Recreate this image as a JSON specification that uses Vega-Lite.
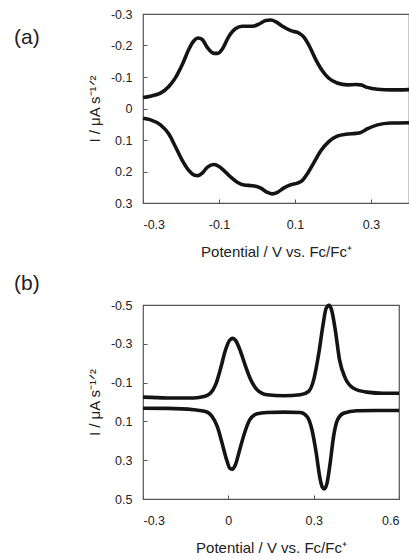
{
  "$schema": "https://vega.github.io/schema/vega-lite/v6.json",
  "background": "white",
  "padding": {"left": 13, "top": 7, "right": 0, "bottom": 0},
  "spacing": 11,
  "config": {
    "font": "Liberation Sans",
    "view": {"stroke": "#555", "strokeWidth": 1.2},
    "axis": {
      "grid": false, "domain": false, "tickColor": "#555", "tickSize": -4, "tickWidth": 1,
      "labelFontSize": 12.5, "labelColor": "#222", "labelFont": "Liberation Sans",
      "titleFontSize": 15, "titleFontWeight": "normal", "titleColor": "#222", "titleFont": "Liberation Sans"
    },
    "axisX": {"labelPadding": 19, "titlePadding": 14},
    "axisY": {"labelPadding": 15, "titlePadding": 8},
    "title": {"fontSize": 21, "fontWeight": "normal", "font": "Liberation Sans", "anchor": "start", "frame": "group", "color": "#222"}
  },
  "vconcat": [
    {
      "title": {"text": "(a)", "dx": -129, "dy": 44},
      "width": 266, "height": 189,
      "data": {"values": [
        {"sweep": "ox", "E": -0.300, "I": -0.035}, {"sweep": "ox", "E": -0.280, "I": -0.039}, {"sweep": "ox", "E": -0.254, "I": -0.049},
        {"sweep": "ox", "E": -0.232, "I": -0.070}, {"sweep": "ox", "E": -0.214, "I": -0.099}, {"sweep": "ox", "E": -0.196, "I": -0.141},
        {"sweep": "ox", "E": -0.179, "I": -0.189}, {"sweep": "ox", "E": -0.166, "I": -0.215}, {"sweep": "ox", "E": -0.155, "I": -0.224},
        {"sweep": "ox", "E": -0.144, "I": -0.219}, {"sweep": "ox", "E": -0.131, "I": -0.194}, {"sweep": "ox", "E": -0.113, "I": -0.175},
        {"sweep": "ox", "E": -0.103, "I": -0.175}, {"sweep": "ox", "E": -0.091, "I": -0.189}, {"sweep": "ox", "E": -0.074, "I": -0.229},
        {"sweep": "ox", "E": -0.056, "I": -0.254}, {"sweep": "ox", "E": -0.039, "I": -0.261}, {"sweep": "ox", "E": -0.012, "I": -0.261},
        {"sweep": "ox", "E": 0.005, "I": -0.268}, {"sweep": "ox", "E": 0.023, "I": -0.279}, {"sweep": "ox", "E": 0.036, "I": -0.281},
        {"sweep": "ox", "E": 0.049, "I": -0.276}, {"sweep": "ox", "E": 0.067, "I": -0.261}, {"sweep": "ox", "E": 0.089, "I": -0.247},
        {"sweep": "ox", "E": 0.111, "I": -0.239}, {"sweep": "ox", "E": 0.124, "I": -0.226}, {"sweep": "ox", "E": 0.137, "I": -0.200},
        {"sweep": "ox", "E": 0.154, "I": -0.157}, {"sweep": "ox", "E": 0.172, "I": -0.120}, {"sweep": "ox", "E": 0.189, "I": -0.096},
        {"sweep": "ox", "E": 0.211, "I": -0.081}, {"sweep": "ox", "E": 0.238, "I": -0.075}, {"sweep": "ox", "E": 0.260, "I": -0.076},
        {"sweep": "ox", "E": 0.273, "I": -0.075}, {"sweep": "ox", "E": 0.290, "I": -0.067}, {"sweep": "ox", "E": 0.317, "I": -0.061},
        {"sweep": "ox", "E": 0.352, "I": -0.059}, {"sweep": "ox", "E": 0.400, "I": -0.060},
        {"sweep": "red", "E": -0.300, "I": 0.031}, {"sweep": "red", "E": -0.280, "I": 0.036}, {"sweep": "red", "E": -0.254, "I": 0.052},
        {"sweep": "red", "E": -0.232, "I": 0.081}, {"sweep": "red", "E": -0.214, "I": 0.123}, {"sweep": "red", "E": -0.196, "I": 0.166},
        {"sweep": "red", "E": -0.179, "I": 0.197}, {"sweep": "red", "E": -0.166, "I": 0.211}, {"sweep": "red", "E": -0.155, "I": 0.213},
        {"sweep": "red", "E": -0.144, "I": 0.205}, {"sweep": "red", "E": -0.131, "I": 0.187}, {"sweep": "red", "E": -0.113, "I": 0.178},
        {"sweep": "red", "E": -0.100, "I": 0.184}, {"sweep": "red", "E": -0.087, "I": 0.197}, {"sweep": "red", "E": -0.069, "I": 0.218},
        {"sweep": "red", "E": -0.052, "I": 0.234}, {"sweep": "red", "E": -0.034, "I": 0.243}, {"sweep": "red", "E": -0.012, "I": 0.245},
        {"sweep": "red", "E": 0.010, "I": 0.253}, {"sweep": "red", "E": 0.027, "I": 0.266}, {"sweep": "red", "E": 0.040, "I": 0.271},
        {"sweep": "red", "E": 0.054, "I": 0.266}, {"sweep": "red", "E": 0.071, "I": 0.252}, {"sweep": "red", "E": 0.089, "I": 0.242},
        {"sweep": "red", "E": 0.106, "I": 0.237}, {"sweep": "red", "E": 0.119, "I": 0.229}, {"sweep": "red", "E": 0.132, "I": 0.208},
        {"sweep": "red", "E": 0.150, "I": 0.171}, {"sweep": "red", "E": 0.168, "I": 0.134}, {"sweep": "red", "E": 0.189, "I": 0.105},
        {"sweep": "red", "E": 0.211, "I": 0.088}, {"sweep": "red", "E": 0.238, "I": 0.081}, {"sweep": "red", "E": 0.260, "I": 0.079},
        {"sweep": "red", "E": 0.273, "I": 0.076}, {"sweep": "red", "E": 0.290, "I": 0.065}, {"sweep": "red", "E": 0.317, "I": 0.052},
        {"sweep": "red", "E": 0.352, "I": 0.046}, {"sweep": "red", "E": 0.400, "I": 0.045}
      ]},
      "mark": {"type": "line", "interpolate": "monotone", "color": "#141414", "strokeWidth": 3.6},
      "encoding": {
        "x": {"field": "E", "type": "quantitative", "scale": {"domain": [-0.3, 0.4], "nice": false, "zero": false},
          "axis": {"values": [-0.3, -0.1, 0.1, 0.3], "title": "Potential / V vs. Fc/Fc⁺",
            "labelExpr": "(datum.value < 0 ? '-' : '') + (datum.value == 0 ? '0' : format(abs(datum.value), '.1f'))"}},
        "y": {"field": "I", "type": "quantitative", "scale": {"domain": [-0.3, 0.3], "nice": false, "zero": false, "reverse": true},
          "axis": {"values": [-0.3, -0.2, -0.1, 0, 0.1, 0.2, 0.3], "title": "I / μA s⁻¹ᐟ²",
            "labelExpr": "(datum.value < 0 ? '-' : '') + (datum.value == 0 ? '0' : format(abs(datum.value), '.1f'))"}},
        "detail": {"field": "sweep", "type": "nominal"}
      }
    },
    {
      "title": {"text": "(b)", "dx": -129, "dy": 0},
      "width": 256, "height": 194,
      "data": {"values": [
        {"sweep": "ox", "E": -0.300, "I": -0.025}, {"sweep": "ox", "E": -0.215, "I": -0.021}, {"sweep": "ox", "E": -0.121, "I": -0.021},
        {"sweep": "ox", "E": -0.086, "I": -0.028}, {"sweep": "ox", "E": -0.063, "I": -0.045}, {"sweep": "ox", "E": -0.045, "I": -0.088},
        {"sweep": "ox", "E": -0.027, "I": -0.174}, {"sweep": "ox", "E": -0.010, "I": -0.268}, {"sweep": "ox", "E": 0.005, "I": -0.319},
        {"sweep": "ox", "E": 0.016, "I": -0.328}, {"sweep": "ox", "E": 0.026, "I": -0.316}, {"sweep": "ox", "E": 0.043, "I": -0.260},
        {"sweep": "ox", "E": 0.060, "I": -0.186}, {"sweep": "ox", "E": 0.078, "I": -0.117}, {"sweep": "ox", "E": 0.101, "I": -0.063},
        {"sweep": "ox", "E": 0.136, "I": -0.037}, {"sweep": "ox", "E": 0.195, "I": -0.032}, {"sweep": "ox", "E": 0.253, "I": -0.037},
        {"sweep": "ox", "E": 0.282, "I": -0.054}, {"sweep": "ox", "E": 0.300, "I": -0.114}, {"sweep": "ox", "E": 0.318, "I": -0.251},
        {"sweep": "ox", "E": 0.332, "I": -0.389}, {"sweep": "ox", "E": 0.344, "I": -0.483}, {"sweep": "ox", "E": 0.354, "I": -0.498},
        {"sweep": "ox", "E": 0.363, "I": -0.474}, {"sweep": "ox", "E": 0.376, "I": -0.371}, {"sweep": "ox", "E": 0.391, "I": -0.217},
        {"sweep": "ox", "E": 0.411, "I": -0.123}, {"sweep": "ox", "E": 0.440, "I": -0.071}, {"sweep": "ox", "E": 0.487, "I": -0.051},
        {"sweep": "ox", "E": 0.546, "I": -0.045}, {"sweep": "ox", "E": 0.600, "I": -0.045},
        {"sweep": "red", "E": -0.300, "I": 0.032}, {"sweep": "red", "E": -0.215, "I": 0.033}, {"sweep": "red", "E": -0.121, "I": 0.040},
        {"sweep": "red", "E": -0.080, "I": 0.049}, {"sweep": "red", "E": -0.057, "I": 0.075}, {"sweep": "red", "E": -0.039, "I": 0.126},
        {"sweep": "red", "E": -0.022, "I": 0.212}, {"sweep": "red", "E": -0.006, "I": 0.298}, {"sweep": "red", "E": 0.005, "I": 0.341},
        {"sweep": "red", "E": 0.015, "I": 0.346}, {"sweep": "red", "E": 0.025, "I": 0.323}, {"sweep": "red", "E": 0.040, "I": 0.246},
        {"sweep": "red", "E": 0.057, "I": 0.160}, {"sweep": "red", "E": 0.075, "I": 0.092}, {"sweep": "red", "E": 0.101, "I": 0.061},
        {"sweep": "red", "E": 0.136, "I": 0.054}, {"sweep": "red", "E": 0.195, "I": 0.052}, {"sweep": "red", "E": 0.253, "I": 0.054},
        {"sweep": "red", "E": 0.277, "I": 0.075}, {"sweep": "red", "E": 0.294, "I": 0.143}, {"sweep": "red", "E": 0.309, "I": 0.263},
        {"sweep": "red", "E": 0.321, "I": 0.383}, {"sweep": "red", "E": 0.330, "I": 0.438}, {"sweep": "red", "E": 0.337, "I": 0.448},
        {"sweep": "red", "E": 0.347, "I": 0.418}, {"sweep": "red", "E": 0.358, "I": 0.315}, {"sweep": "red", "E": 0.370, "I": 0.177},
        {"sweep": "red", "E": 0.384, "I": 0.091}, {"sweep": "red", "E": 0.405, "I": 0.058}, {"sweep": "red", "E": 0.452, "I": 0.045},
        {"sweep": "red", "E": 0.522, "I": 0.044}, {"sweep": "red", "E": 0.600, "I": 0.044}
      ]},
      "mark": {"type": "line", "interpolate": "monotone", "color": "#141414", "strokeWidth": 3.6},
      "encoding": {
        "x": {"field": "E", "type": "quantitative", "scale": {"domain": [-0.3, 0.6], "nice": false, "zero": false},
          "axis": {"values": [-0.3, 0, 0.3, 0.6], "title": "Potential / V vs. Fc/Fc⁺",
            "labelExpr": "(datum.value < 0 ? '-' : '') + (datum.value == 0 ? '0' : format(abs(datum.value), '.1f'))"}},
        "y": {"field": "I", "type": "quantitative", "scale": {"domain": [-0.5, 0.5], "nice": false, "zero": false, "reverse": true},
          "axis": {"values": [-0.5, -0.3, -0.1, 0.1, 0.3, 0.5], "title": "I / μA s⁻¹ᐟ²",
            "labelExpr": "(datum.value < 0 ? '-' : '') + (datum.value == 0 ? '0' : format(abs(datum.value), '.1f'))"}},
        "detail": {"field": "sweep", "type": "nominal"}
      }
    }
  ]
}
